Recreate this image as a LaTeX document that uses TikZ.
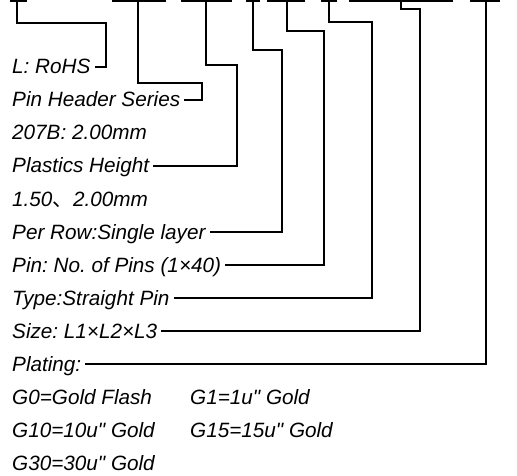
\documentclass[tikz,border=0pt]{standalone}
\usepackage{fontspec}
\setmainfont{Liberation Sans}
\newfontfamily\cjk{Noto Sans CJK SC}
\usetikzlibrary{positioning}
\frenchspacing
\tikzset{
lead/.style={line width=1.3pt, line join=miter},
lbl/.style={anchor=west, inner xsep=4pt, inner ysep=0pt, text height=14pt, text depth=0pt, font=\fontsize{20.7}{24}\selectfont\itshape},
}
\newcommand\drawbar[2]
{
% left: #1
% right: #2
\fill (#1,0) rectangle (#2,2.5);
}
\newcommand\inch{\textquotedbl}

\begin{document}
\begin{tikzpicture}[x=1pt,y=-1pt]
\useasboundingbox (0,0) rectangle (517,476);

%% Definitions
\pgfmathsetmacro{\dy}{33}
\pgfmathsetmacro{\ytop}{67}
\pgfmathsetmacro{\xtxt}{8}
\pgfmathsetmacro{\xtwo}{186}

% --------------------------------------------------------

%% code bars
\drawbar{10}{27}
\drawbar{112}{166}
\drawbar{181}{232}
\drawbar{246}{260}
\drawbar{267}{305}
\drawbar{321}{337}
\drawbar{349}{453}
\drawbar{470}{500}

\coordinate (t1) at (17,0);
\coordinate (t2) at (138,0);
\coordinate (t3) at (206,0);
\coordinate (t4) at (253,0);
\coordinate (t5) at (287,0);
\coordinate (t6) at (329,0);
\coordinate (t7) at (401,0);
\coordinate (t8) at (486,0);

% --------------------------------------------------------

%% labels
\node[lbl] (rohs) at (\xtxt,\ytop) {L: RoHS};
\node[lbl] (series) at (\xtxt,\ytop+\dy) {Pin Header Series};
\node[lbl] (pitch) at (\xtxt,\ytop+2*\dy) {207B: 2.00mm};
\node[lbl] (height) at (\xtxt,\ytop+3*\dy) {Plastics Height\ };
\node[lbl] (heights) at (\xtxt,\ytop+4*\dy) {1.50{\cjk 、}2.00mm};
\node[lbl] (row) at (\xtxt,\ytop+5*\dy) {Per Row:Single layer};
\node[lbl] (pins) at (\xtxt,\ytop+6*\dy) {Pin: No. of Pins (1×40)};
\node[lbl] (type) at (\xtxt,\ytop+7*\dy) {Type:Straight Pin};
\node[lbl] (size) at (\xtxt,\ytop+8*\dy) {Size: L1×L2×L3};
\node[lbl] (plating) at (\xtxt,\ytop+9*\dy) {Plating:};

%% plating codes
\node[lbl] (gzero) at (\xtxt,\ytop+10*\dy) {G0=Gold Flash};
\node[lbl] (gone) at (\xtwo,\ytop+10*\dy) {G1=1u\inch{} Gold};
\node[lbl] (gten) at (\xtxt,\ytop+11*\dy) {G10=10u\inch{} Gold};
\node[lbl] (gfifteen) at (\xtwo,\ytop+11*\dy) {G15=15u\inch{} Gold};
\node[lbl] (gthirty) at (\xtxt,\ytop+12*\dy) {G30=30u\inch{} Gold};

% --------------------------------------------------------

%% leads
\draw[lead] (t1) |- (106,23) |- (rohs.east);
\draw[lead] (t2) |- (202,83) |- (series.east);
\draw[lead] (t3) |- (237,65) |- (height.east);
\draw[lead] (t4) |- (282,50) |- (row.east);
\draw[lead] (t5) |- (324,31) |- (pins.east);
\draw[lead] (t6) |- (372,22) |- (type.east);
\draw[lead] (t7) |- (420,9) |- (size.east);
\draw[lead] (t8) |- (plating.east);
\end{tikzpicture}
\end{document}
